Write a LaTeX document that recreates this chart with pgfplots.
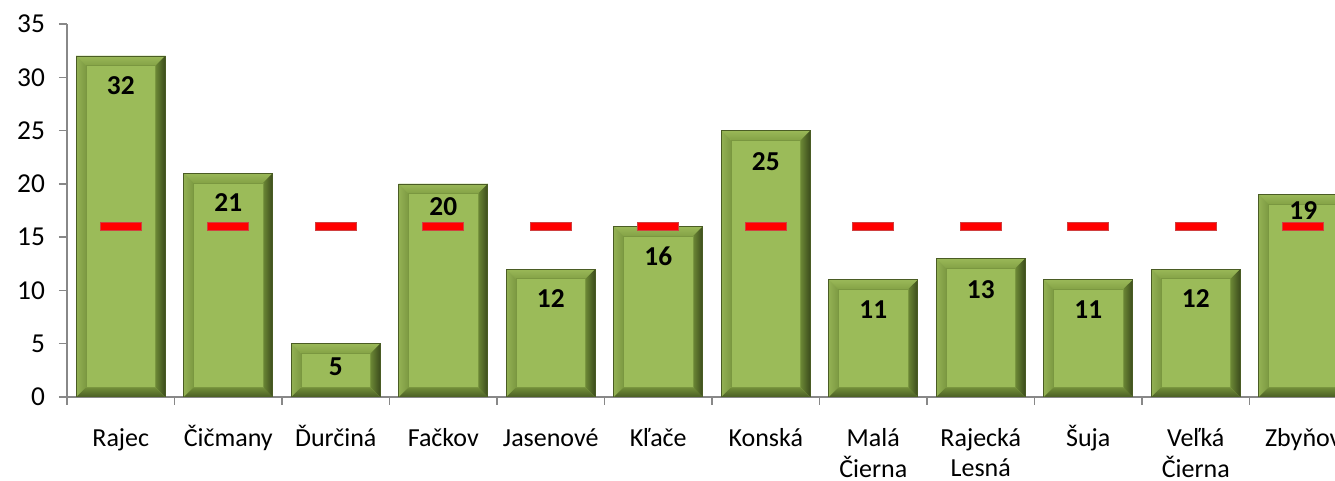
\documentclass[border=0pt]{standalone}
\usepackage{pgfplots}
\pgfplotsset{compat=1.18}
\usepackage{pgfplotstable}
\usepackage{fontspec}
\setmainfont{Carlito}
\definecolor{face}{HTML}{9BBB59}
\definecolor{bvtopA}{HTML}{9AB858}
\definecolor{bvtopB}{HTML}{84A246}
\definecolor{bvleftA}{HTML}{93B153}
\definecolor{bvleftB}{HTML}{7C9942}
\definecolor{bvrightA}{HTML}{6B8735}
\definecolor{bvrightB}{HTML}{3B4B1C}
\definecolor{bvbotA}{HTML}{728E39}
\definecolor{bvbotB}{HTML}{4A5E24}
\definecolor{edge}{HTML}{4A5C24}
\definecolor{inner}{HTML}{7A9740}
\definecolor{axgray}{HTML}{888888}
\definecolor{markedge}{HTML}{D04040}

\pgfplotstableread{
x v ly avg
0 32 29.18 16
1 21 18.2 16
2 5 2.82 16
3 20 17.9 16
4 12 9.25 16
5 16 13.2 16
6 25 22.1 16
7 11 8.16 16
8 13 10.1 16
9 11 8.16 16
10 12 9.2 16
11 19 17.5 16
}\bardata

\begin{document}
\begin{tikzpicture}
\begin{axis}[
  width=967.5pt, height=279.75pt, scale only axis,
  xmin=-0.5, xmax=11.5, ymin=0, ymax=35,
  axis x line=bottom, axis y line=left,
  axis line style={draw=axgray, line width=1pt, -},
  tick style={draw=axgray, line width=1pt},
  tick align=outside, major tick length=6pt,
  ytick={0,5,...,35},
  yticklabels={0,5,10,15,20,25,30,35},
  xtick={-0.5,0.5,...,11.5},
  xticklabels={\strut Rajec,\strut Čičmany,\strut Ďurčiná,\strut Fačkov,\strut Jasenové,\strut Kľače,\strut Konská,{\strut Malá\\Čierna},{\strut Rajecká\\Lesná},\strut Šuja,{\strut Veľká\\Čierna},\strut Zbyňov,{}},
  xticklabel style={font=\fontsize{19.5}{22.5}\selectfont, align=center, anchor=north, xshift=40.3125pt, yshift=-11.5pt, text=black},
  yticklabel style={font=\fontsize{20.5}{24}\selectfont, xshift=-7pt, text=black},
]
% base bars
\addplot[ybar, bar width=0.828, fill=face, draw=none] table[x=x,y=v]{\bardata};
% bevels
\pgfplotsinvokeforeach{0,...,11}{
  \pgfplotstablegetelem{#1}{v}\of\bardata
  \pgfmathsetmacro\V{\pgfplotsretval}
  \pgfmathsetmacro\L{#1-0.414}
  \pgfmathsetmacro\R{#1+0.414}
  \pgfmathsetmacro\Li{#1-0.414+0.09}
  \pgfmathsetmacro\Ri{#1+0.414-0.09}
  \pgfmathsetmacro\T{\V-0.9}
  \edef\tmp{%
    \noexpand\addplot[top color=bvtopA,bottom color=bvtopB,draw=none] coordinates {(\L,\V) (\R,\V) (\Ri,\T) (\Li,\T)} --cycle;
    \noexpand\addplot[left color=bvleftA,right color=bvleftB,draw=none] coordinates {(\L,0) (\L,\V) (\Li,\T) (\Li,0.9)} --cycle;
    \noexpand\addplot[left color=bvrightA,right color=bvrightB,draw=none] coordinates {(\R,0) (\R,\V) (\Ri,\T) (\Ri,0.9)} --cycle;
    \noexpand\addplot[top color=bvbotA,bottom color=bvbotB,draw=none] coordinates {(\L,0) (\R,0) (\Ri,0.9) (\Li,0.9)} --cycle;
    \noexpand\addplot[draw=inner,line width=0.4pt] coordinates {(\Li,0.9) (\Ri,0.9) (\Ri,\T) (\Li,\T)} --cycle;
  }\tmp
}
% outline
\addplot[ybar, bar width=0.828, fill=none, draw=edge, line width=0.5pt] table[x=x,y=v]{\bardata};
% average markers
\addplot[only marks, mark=-, mark size=15.6pt, mark options={draw=markedge, line width=6.9pt}] table[x=x,y=avg]{\bardata};
\addplot[only marks, mark=-, mark size=14.9pt, mark options={draw=red, line width=5.6pt}] table[x=x,y=avg]{\bardata};
% value labels
\addplot[draw=none, mark=none, nodes near coords, point meta=explicit symbolic,
  every node near coord/.append style={anchor=center, font=\bfseries\fontsize{20.5}{22}\selectfont, text=black}]
  table[x=x,y=ly,meta=v]{\bardata};
\end{axis}
\pgfresetboundingbox
\path[use as bounding box] (-50.25pt,-63pt) rectangle (951pt,297.75pt);
\end{tikzpicture}
\end{document}
